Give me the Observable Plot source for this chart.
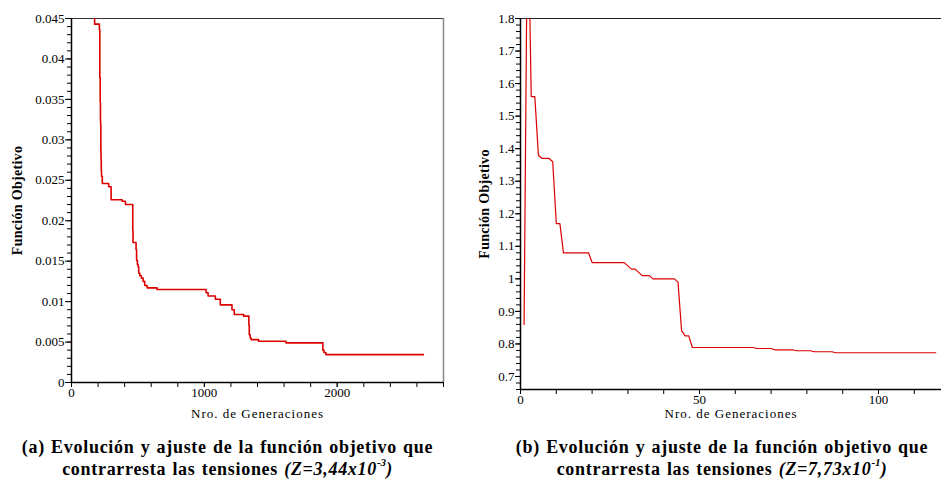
<!DOCTYPE html>
<html>
<head>
<meta charset="utf-8">
<script src="https://cdn.jsdelivr.net/npm/d3@7"></script>
<script src="https://cdn.jsdelivr.net/npm/@observablehq/plot@0.6"></script>
<style>
  body { margin: 0; background: #fff; }
  #fig { position: relative; width: 941px; height: 479px; overflow: hidden; font-family: "Liberation Serif", "Times New Roman", serif; color: #000; }
  .panel { position: absolute; top: 0; }
  #panelA { left: 0; }
  #panelB { left: 470px; }
  .cap { position: absolute; top: 436px; font-weight: bold; font-size: 18px; line-height: 22px; text-align: center; letter-spacing: 0.7px; word-spacing: 1px; white-space: nowrap; }
  #capA { left: 0; width: 455px; }
  #capB { left: 470px; width: 504px; }
  .cap sup { font-size: 11px; position: relative; top: -2px; line-height: 0; letter-spacing: 0; }
</style>
</head>
<body>
<div id="fig">
  <div class="panel" id="panelA"></div>
  <div class="panel" id="panelB"></div>
  <div class="cap" id="capA">(a) Evolución y ajuste de la función objetivo que<br>contrarresta las tensiones <i>(Z=3,44x10<sup>-3</sup>)</i></div>
  <div class="cap" id="capB">(b) Evolución y ajuste de la función objetivo que<br>contrarresta las tensiones <i>(Z=7,73x10<sup>-1</sup>)</i></div>
</div>
<script>
// Panel (a): best objective value per generation (step changes)
const genA = [173, 174, 210, 213, 216, 218, 219, 221, 222, 224, 226, 232, 280, 298, 381, 406,
  461, 463, 486, 490, 496, 501, 506, 514, 526, 539, 551, 569, 644, 1013, 1028, 1083,
  1120, 1208, 1225, 1296, 1335, 1338, 1345, 1352, 1408, 1614, 1892, 1900, 1915, 2649];
const valA = [0.0460, 0.0443, 0.0436, 0.0377, 0.0346, 0.0325, 0.0319, 0.0287, 0.0276, 0.0262, 0.0255, 0.0246, 0.0242, 0.0226, 0.0224, 0.0220,
  0.0188, 0.0173, 0.0164, 0.0151, 0.0146, 0.0143, 0.0135, 0.0132, 0.0129, 0.0125, 0.0120, 0.0117, 0.0115, 0.0111, 0.0107, 0.0103,
  0.0096, 0.0090, 0.0084, 0.0082, 0.0071, 0.0059, 0.0055, 0.0053, 0.0051, 0.0049, 0.0040, 0.0037, 0.00344, 0.00344];

// Panel (b): objective value for generations 1..116
const valB = [
  0.86, 2.2, 1.56, 1.56, 1.38, 1.37, 1.37, 1.37, 1.36, 1.17,
  1.17, 1.08, 1.08, 1.08, 1.08, 1.08, 1.08, 1.08, 1.08, 1.05,
  1.05, 1.05, 1.05, 1.05, 1.05, 1.05, 1.05, 1.05, 1.05, 1.04,
  1.03, 1.03, 1.02, 1.01, 1.01, 1.01, 1.00, 1.00, 1.00, 1.00,
  1.00, 1.00, 1.00, 0.99, 0.84, 0.825, 0.825, 0.789, 0.789, 0.789,
  0.789, 0.789, 0.789, 0.789, 0.789, 0.789, 0.789, 0.789, 0.789, 0.789,
  0.789, 0.789, 0.789, 0.789, 0.789, 0.786, 0.786, 0.786, 0.786, 0.786,
  0.782, 0.782, 0.782, 0.782, 0.782, 0.782, 0.779, 0.779, 0.779, 0.779,
  0.779, 0.776, 0.776, 0.776, 0.776, 0.776, 0.776, 0.773, 0.773, 0.773,
  0.773, 0.773, 0.773, 0.773, 0.773, 0.773, 0.773, 0.773, 0.773, 0.773,
  0.773, 0.773, 0.773, 0.773, 0.773, 0.773, 0.773, 0.773, 0.773, 0.773,
  0.773, 0.773, 0.773, 0.773, 0.773, 0.773];

// Axis domains and ticks
const xDomainA = [0, 2800];
const yDomainA = [0, 0.045];
const xTickLabelsA = [0, 1000, 2000];
const yTickLabelsA = [0, 0.005, 0.01, 0.015, 0.02, 0.025, 0.03, 0.035, 0.04, 0.045];
const xDomainB = [0, 117.6];
const yDomainB = [0.66, 1.8];
const xTickLabelsB = [0, 50, 100];
const yTickLabelsB = [0.7, 0.8, 0.9, 1, 1.1, 1.2, 1.3, 1.4, 1.5, 1.6, 1.7, 1.8];

const xLabel = "Nro. de Generaciones";
const yLabel = "Función Objetivo";
const lineColor = "#dc0000";

const minor = (lo, hi, step) => d3.range(Math.round(lo / step), Math.round(hi / step) + 1).map(i => +(i * step).toFixed(6));

const dataA = genA.map((g, i) => ({gen: g, val: valA[i]}));
const dataB = valB.map((v, i) => ({gen: i + 1, val: v}));

const baseStyle = {fontFamily: "Liberation Serif, serif", fontSize: "13px", background: "white", color: "black", overflow: "visible"};
const fmt = d => String(d);
const blank = () => "";

const chartA = Plot.plot({
  width: 470, height: 420,
  marginLeft: 71, marginRight: 27, marginTop: 18, marginBottom: 38,
  style: baseStyle,
  x: {domain: xDomainA},
  y: {domain: yDomainA},
  marks: [
    Plot.axisY({ticks: minor(0, 0.045, 0.001), tickSize: 4, tickFormat: blank, label: null}),
    Plot.axisY({ticks: yTickLabelsA, tickSize: 6, tickPadding: 1, tickFormat: fmt, label: null}),
    Plot.axisX({ticks: minor(0, 2800, 200), tickSize: 5, tickFormat: blank, label: null}),
    Plot.axisX({ticks: xTickLabelsA, tickSize: 5, tickPadding: 0, tickFormat: fmt, label: null}),
    Plot.ruleY([yDomainA[1]], {stroke: "#333", strokeWidth: 1.2}),
    Plot.ruleX([xDomainA[1]], {stroke: "#888", strokeWidth: 1.5}),
    Plot.line(dataA, {x: "gen", y: "val", curve: "step-after", stroke: lineColor, strokeWidth: 1.6, clip: true}),
    Plot.ruleX([xDomainA[0]], {stroke: "black", strokeWidth: 1.5}),
    Plot.ruleY([yDomainA[0]], {stroke: "black", strokeWidth: 1.5}),
    Plot.text([xLabel], {frameAnchor: "bottom", lineAnchor: "middle", dy: 31, fontSize: 13}),
    Plot.text([yLabel], {frameAnchor: "left", textAnchor: "middle", lineAnchor: "middle", rotate: -90, dx: -54, fontSize: 14, fontWeight: "bold"})
  ]
});

const chartB = Plot.plot({
  width: 471, height: 420,
  marginLeft: 50, marginRight: 0, marginTop: 18, marginBottom: 31,
  style: baseStyle,
  x: {domain: xDomainB},
  y: {domain: yDomainB},
  marks: [
    Plot.axisY({ticks: minor(0.66, 1.8, 0.02), tickSize: 4, tickFormat: blank, label: null}),
    Plot.axisY({ticks: yTickLabelsB, tickSize: 5, tickPadding: 1, tickFormat: fmt, label: null}),
    Plot.axisX({ticks: minor(0, 110, 10), tickSize: 5, tickFormat: blank, label: null}),
    Plot.axisX({ticks: xTickLabelsB, tickSize: 5, tickPadding: 0, tickFormat: fmt, label: null}),
    Plot.ruleY([yDomainB[1]], {stroke: "#222", strokeWidth: 1.2}),
    Plot.line(dataB, {x: "gen", y: "val", stroke: lineColor, strokeWidth: 1.2, clip: true}),
    Plot.ruleX([xDomainB[0]], {stroke: "black", strokeWidth: 1.5}),
    Plot.ruleY([yDomainB[0]], {stroke: "black", strokeWidth: 1.5}),
    Plot.text([xLabel], {frameAnchor: "bottom", lineAnchor: "middle", dy: 24, fontSize: 13}),
    Plot.text([yLabel], {frameAnchor: "left", textAnchor: "middle", lineAnchor: "middle", rotate: -90, dx: -36, fontSize: 14, fontWeight: "bold"})
  ]
});

document.getElementById("panelA").appendChild(chartA);
document.getElementById("panelB").appendChild(chartB);
// slightly spaced axis titles
d3.selectAll("#fig svg text").filter(function () { return this.textContent === xLabel; }).style("letter-spacing", "1px");
d3.selectAll("#fig svg text").filter(function () { return this.textContent === yLabel; }).style("letter-spacing", "0.3px");
</script>
</body>
</html>
